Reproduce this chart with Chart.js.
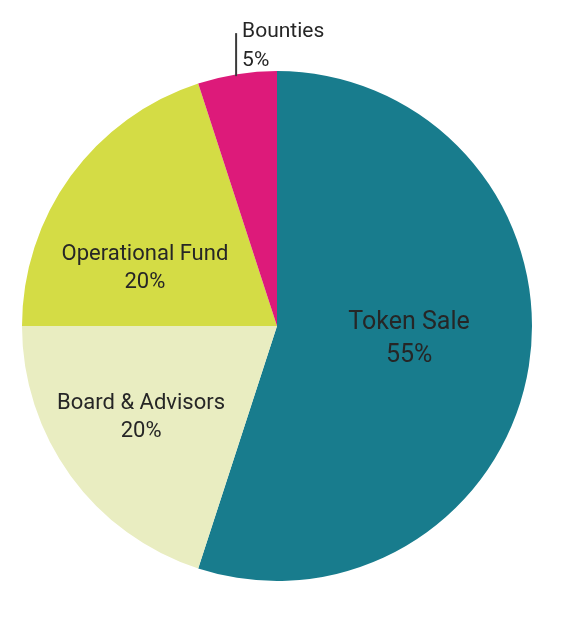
<!DOCTYPE html>
<html>
<head>
<meta charset="utf-8">
<script src="https://cdn.jsdelivr.net/npm/chart.js@4.4.1/dist/chart.umd.min.js"></script>
<style>
  html, body { margin: 0; padding: 0; background: #ffffff; }
  #wrap { width: 562px; height: 624px; }
</style>
</head>
<body>
<div id="wrap"><canvas id="tokenChart" width="562" height="624"></canvas></div>
<script>
// Token distribution
const categories = ['Token Sale', 'Board & Advisors', 'Operational Fund', 'Bounties'];
const shares = [55, 20, 20, 5];
const sliceColors = ['#187c8d', '#e9edc1', '#d4dc45', '#dd1a7a'];

// where each label sits, relative to the pie centre, in units of the radius
const labelPlacement = [
    { dx: 0.518, dy: 0.053, size: 25, gap: 33 },
    { dx: -0.533, dy: 0.357, size: 22, gap: 28 },
    { dx: -0.518, dy: -0.224, size: 22, gap: 28 },
    { outside: true, size: 21, gap: 29 }
];

const sliceLabels = {
    id: 'sliceLabels',
    afterDatasetsDraw(chart) {
        const ctx = chart.ctx;
        const meta = chart.getDatasetMeta(0);
        meta.data.forEach(function(arc, i) {
            const p = labelPlacement[i];
            const r = arc.outerRadius;
            const text = [categories[i], shares[i] + '%'];
            ctx.save();
            ctx.fillStyle = '#262626';
            ctx.font = p.size + 'px Roboto';
            ctx.textBaseline = 'middle';
            if (p.outside) {
                // leader line straight up from the arc edge
                const mid = (arc.startAngle + arc.endAngle) / 2;
                const ex = arc.x + Math.cos(mid) * r;
                const ey = arc.y + Math.sin(mid) * r;
                ctx.strokeStyle = '#3a3a3a';
                ctx.lineWidth = 2;
                ctx.beginPath();
                ctx.moveTo(ex - 1, ey + 2);
                ctx.lineTo(ex - 1, ey - 41);
                ctx.stroke();
                ctx.textAlign = 'left';
                ctx.fillText(text[0], ex + 5, ey - 42);
                ctx.fillText(text[1], ex + 5, ey - 42 + p.gap);
            } else {
                const cx = arc.x + p.dx * r;
                const cy = arc.y + p.dy * r;
                ctx.textAlign = 'center';
                ctx.fillText(text[0], cx, cy - p.gap / 2);
                ctx.fillText(text[1], cx, cy + p.gap / 2);
            }
            ctx.restore();
        });
    }
};

function createChart(ctx) {
    return new Chart(ctx, {
        type: 'pie',
        data: {
            labels: categories,
            datasets: [{
                data: shares,
                backgroundColor: sliceColors,
                borderWidth: 0
            }]
        },
        options: {
            responsive: false,
            animation: false,
            layout: {
                padding: { top: 71, bottom: 43, left: 22, right: 30 }
            },
            plugins: {
                legend: { display: false },
                tooltip: { enabled: false }
            }
        },
        plugins: [sliceLabels]
    });
}

createChart(document.getElementById('tokenChart').getContext('2d'));
</script>
</body>
</html>
